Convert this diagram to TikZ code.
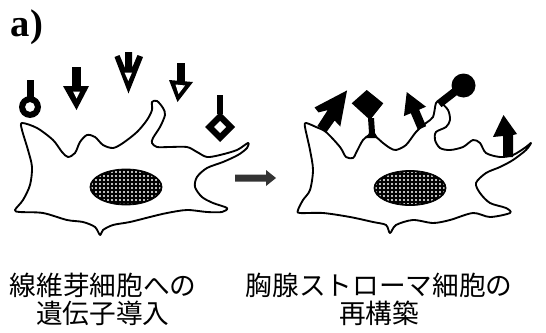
\documentclass[tikz,border=0pt]{standalone}
\usepackage{fontspec}
\setmainfont{Liberation Serif}
\newfontfamily\jpfont{Noto Sans CJK JP}
\usetikzlibrary{patterns}
\pgfdeclarepatternformonly{meshdots}{\pgfqpoint{-1pt}{-1pt}}{\pgfqpoint{1pt}{1pt}}{\pgfqpoint{3pt}{3pt}}{%
 \pgfpathcircle{\pgfqpoint{0pt}{0pt}}{0.8pt}\pgfusepath{fill}}

\begin{document}
\begin{tikzpicture}[x=0.75pt,y=-0.75pt,
 membrane/.style={line width=1.4pt,line join=round},
 nucleus/.style={fill=black,draw=black,line width=0.6pt},
 ligand/.style={fill=black},
 hole/.style={fill=white},
 caption/.style={font=\jpfont\fontsize{20}{21}\selectfont,align=center,inner sep=0pt}]
 \useasboundingbox (0,0) rectangle (546,332);
 \node[font=\bfseries\fontsize{29}{29}\selectfont,inner sep=0pt] (tag) at (27,27) {a)};

 % fibroblast
 \draw[membrane] plot[smooth cycle,tension=0.5] coordinates {
 (22,123) (37,128) (53,140) (62,152) (68,157) (75,153) (80,142) (87,135)
 (95,137) (103,145) (113,148) (123,143) (137,132) (147,120) (152,110)
 (152,102) (157,101) (163,108) (165,115) (160,127) (153,138) (152,143)
 (157,147) (170,147) (187,147) (197,152) (207,157) (220,155) (237,150)
 (248,143) (247,148) (238,155) (223,162) (207,168) (197,177) (195,187)
 (202,197) (213,203) (227,208) (222,212) (207,212) (187,210) (167,213)
 (150,217) (130,222) (113,225) (103,230) (100,235) (95,227) (83,222)
 (67,220) (43,213) (20,212) (15,210) (23,200) (30,185) (32,167) (28,150)
 (22,130)};
 \filldraw[nucleus] (126,187) ellipse [x radius=36,y radius=18];
 \fill[pattern=meshdots,pattern color=white] (126,187) ellipse [x radius=34.5,y radius=16.5];

 % ligands coming in
 \fill[ligand] (26.5,80) rectangle (33.5,97);
 \fill[ligand,even odd rule] (30,107) circle [radius=11] (30,107) circle [radius=5];
 \fill[ligand] (72,67) rectangle (81,88);
 \fill[ligand] (63,86) -- (89,86) -- (76.5,110) -- cycle;
 \fill[hole] (73,91.5) -- (80,91.5) -- (76.5,98.5) -- cycle;
 \fill[ligand] (128.5,93.5) -- (114.5,57) -- (119.5,55) -- (125,68) -- (125,52)
  -- (132,52) -- (132,68) -- (137.5,55) -- (143,57) -- cycle;
 \fill[hole] (124.5,72.5) -- (132,72.5) -- (128.3,81) -- cycle;
 \fill[ligand] (177,63) rectangle (185,82);
 \fill[ligand] (169,80) -- (193,82) -- (177.5,102) -- cycle;
 \fill[hole] (175.5,84.5) -- (185,85.5) -- (178.5,94) -- cycle;
 \fill[ligand] (217,95) rectangle (223,114);
 \fill[ligand] (220,112) -- (235,127) -- (220,142) -- (205,127) -- cycle;
 \fill[hole] (220,121) -- (226,127) -- (220,133) -- (214,127) -- cycle;

 % block arrow
 \fill[black!80] (235,174.5) -- (266,174.5) -- (266,170) -- (276,178)
  -- (266,186) -- (266,181.5) -- (235,181.5) -- cycle;

 % stromal cell
 \draw[membrane] plot[smooth cycle,tension=0.5] coordinates {
 (306,123) (316,127) (326,132) (340,147) (346,157) (353,158) (356,153)
 (363,140) (370,135) (376,137) (383,143) (390,148) (396,150) (406,145)
 (416,132) (426,123) (433,117) (436,103) (440,102) (448,110) (450,120)
 (446,127) (436,132) (435,140) (440,148) (450,150) (463,147) (473,140)
 (480,143) (486,153) (500,157) (513,155) (526,147) (531,143) (526,150)
 (513,160) (500,167) (486,173) (476,183) (480,193) (490,203) (506,208)
 (510,213) (490,217) (473,213) (450,220) (433,223) (413,220) (396,225)
 (390,233) (386,225) (373,222) (350,217) (323,213) (300,213) (298,210)
 (303,200) (310,190) (313,170) (310,150) (305,127)};
 \filldraw[nucleus] (410,188) ellipse [x radius=36,y radius=17.5];
 \fill[pattern=meshdots,pattern color=white] (410,188) ellipse [x radius=34.5,y radius=16];

 % receptors on the surface
 \begin{scope}[shift={(322,129)},rotate=-33]
  \fill[ligand] (0,-46) -- (-18,-14) -- (-12,-12) -- (-5.5,-19) -- (-5.5,0)
   -- (5.5,0) -- (6,-14) -- (14,-12) -- cycle;
 \end{scope}
 \fill[ligand] (366.7,90) -- (383.3,103.3) -- (370,120) -- (351.7,103.3) -- cycle;
 \fill[ligand] (368,118) -- (374,118) -- (375,133) -- (378,138) -- (366,138)
  -- (369,133) -- cycle;
 \begin{scope}[shift={(422,128)},rotate=23]
  \fill[ligand] (-4.5,0) -- (-4.5,-18) -- (-12,-18) -- (0,-39) -- (12,-18)
   -- (4.5,-18) -- (4.5,0) -- cycle;
 \end{scope}
 \draw[ligand,line width=6pt] (439,104) -- (457,90);
 \fill[ligand] (463.5,85.5) circle [radius=12];
 \fill[ligand] (503,157) -- (503,136) -- (493,137) -- (503.5,115) -- (517,134)
  -- (513,135) -- (513,157) -- cycle;

 \node[caption] (gene) at (103,299) {線維芽細胞への\\遺伝子導入};
 \node[caption] (stroma) at (379,299) {胸腺ストローマ細胞の\\再構築};
\end{tikzpicture}
\end{document}
